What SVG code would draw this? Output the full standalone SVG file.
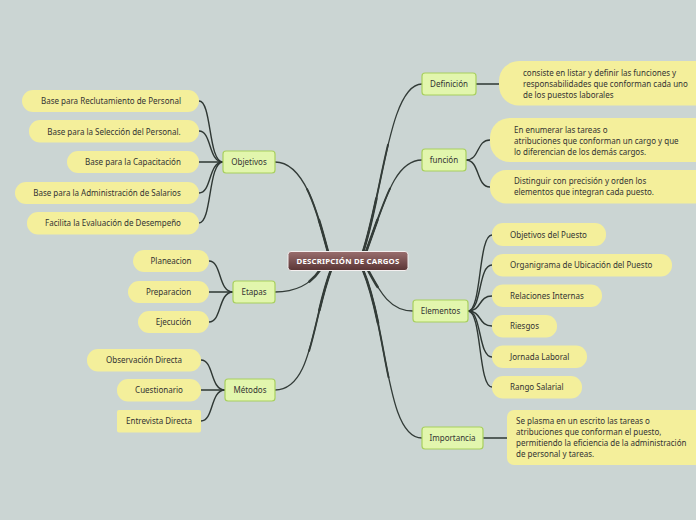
<svg xmlns="http://www.w3.org/2000/svg" width="696" height="520" viewBox="0 0 696 520">
<defs>
<linearGradient id="cg" x1="0" y1="0" x2="0" y2="1">
<stop offset="0" stop-color="#9a6e6e"/>
<stop offset="1" stop-color="#5a3535"/>
</linearGradient>
<style>
text{font-family:"Noto Sans","Open Sans",sans-serif;font-size:8px;fill:#333;}
.mid{text-anchor:middle;}
.leaf{fill:#f4ef9b;}
.br{fill:#e2f6ad;stroke:#a8d05e;stroke-width:1.2;}
.c{fill:none;stroke:#333c38;stroke-width:1.3;stroke-linecap:round;}
.t{fill:none;stroke:#333c38;stroke-width:2.6;stroke-linecap:round;stroke-dasharray:30 200;}
.t2{fill:none;stroke:#333c38;stroke-width:1.9;stroke-linecap:round;stroke-dasharray:60 200;}
.l{fill:none;stroke:#2e3733;stroke-width:1.4;stroke-linecap:round;}
.ct{font-size:7.8px;font-weight:bold;fill:#fff;text-anchor:middle;letter-spacing:0.2px;}
</style>
</defs>
<rect width="696" height="520" fill="#cbd5d3"/>

<g id="connectors">
<g id="main">
<path id="p1" class="c" d="M328 252 C318 215 305 162 275 162"/>
<path id="p2" class="c" d="M320 270 C310 285 295 292 275 292"/>
<path id="p3" class="c" d="M331 270 C312 320 312 390 275 390"/>
<path id="p4" class="c" d="M363 252 C383 190 390 84 422 84"/>
<path id="p5" class="c" d="M366 252 C385 200 395 160 422 160"/>
<path id="p6" class="c" d="M368 270 C380 292 390 311 413 311"/>
<path id="p7" class="c" d="M363 270 C388 330 386 438 422 438"/>
</g>
<g id="taper">
<path class="t" pathLength="100" d="M328 252 C318 215 305 162 275 162"/>
<path class="t" pathLength="100" d="M320 270 C310 285 295 292 275 292"/>
<path class="t" pathLength="100" d="M331 270 C312 320 312 390 275 390"/>
<path class="t" pathLength="100" d="M363 252 C383 190 390 84 422 84"/>
<path class="t" pathLength="100" d="M366 252 C385 200 395 160 422 160"/>
<path class="t" pathLength="100" d="M368 270 C380 292 390 311 413 311"/>
<path class="t" pathLength="100" d="M363 270 C388 330 386 438 422 438"/>
<path class="t2" pathLength="100" d="M328 252 C318 215 305 162 275 162"/>
<path class="t2" pathLength="100" d="M331 270 C312 320 312 390 275 390"/>
<path class="t2" pathLength="100" d="M363 252 C383 190 390 84 422 84"/>
<path class="t2" pathLength="100" d="M366 252 C385 200 395 160 422 160"/>
<path class="t2" pathLength="100" d="M363 270 C388 330 386 438 422 438"/>
</g>
<path class="l" d="M223 162 C208 162 212 101 199 101"/>
<path class="l" d="M223 162 C208 162 212 131 199 131"/>
<path class="l" d="M223 162 L199 162"/>
<path class="l" d="M223 162 C208 162 212 193 199 193"/>
<path class="l" d="M223 162 C208 162 212 223 199 223"/>
<path class="l" d="M233 292 C218 292 222 261 209 261"/>
<path class="l" d="M233 292 L209 292"/>
<path class="l" d="M233 292 C218 292 222 322 209 322"/>
<path class="l" d="M225 390 C210 390 214 360 201 360"/>
<path class="l" d="M225 390 L201 390"/>
<path class="l" d="M225 390 C210 390 214 421 201 421"/>
<path class="l" d="M476 84 L499 84"/>
<path class="l" d="M466 160 C480 160 476 140 490 140"/>
<path class="l" d="M466 160 C480 160 476 187 490 187"/>
<path class="l" d="M468 311 C482 311 478 235 492 235"/>
<path class="l" d="M468 311 C482 311 478 265 492 265"/>
<path class="l" d="M468 311 C482 311 478 296 492 296"/>
<path class="l" d="M468 311 C482 311 478 326 492 326"/>
<path class="l" d="M468 311 C482 311 478 357 492 357"/>
<path class="l" d="M468 311 C482 311 478 387 492 387"/>
<path class="l" d="M483 438 L507 438"/>
</g>

<g id="center">
<rect x="288" y="251.5" width="120" height="19" rx="3" fill="url(#cg)" stroke="#f4f0f0" stroke-width="1"/>
<text class="ct" x="348" y="264">DESCRIPCIÓN DE CARGOS</text>
</g>

<g id="objetivos">
<rect class="br" x="223" y="151" width="52" height="22" rx="3"/>
<text class="mid" x="249" y="165">Objetivos</text>
</g>
<g id="obj1"><rect class="leaf" x="22" y="90" width="177" height="22" rx="11"/><text class="mid" x="111" y="104">Base para Reclutamiento de Personal</text></g>
<g id="obj2"><rect class="leaf" x="29" y="120" width="170" height="22.5" rx="11"/><text class="mid" x="114" y="134.5">Base para la Selección del Personal.</text></g>
<g id="obj3"><rect class="leaf" x="67" y="151" width="132" height="22" rx="11"/><text class="mid" x="133" y="165">Base para la Capacitación</text></g>
<g id="obj4"><rect class="leaf" x="15" y="182" width="184" height="22" rx="11"/><text class="mid" x="107" y="196">Base para la Administración de Salarios</text></g>
<g id="obj5"><rect class="leaf" x="27" y="212" width="172" height="22.5" rx="11"/><text class="mid" x="113" y="226">Facilita la Evaluación de Desempeño</text></g>

<g id="etapas">
<rect class="br" x="233" y="281" width="42" height="22" rx="3"/>
<text class="mid" x="254" y="295">Etapas</text>
</g>
<g id="eta1"><rect class="leaf" x="133" y="250" width="76" height="22" rx="11"/><text class="mid" x="171" y="264">Planeacion</text></g>
<g id="eta2"><rect class="leaf" x="128" y="281" width="81" height="22" rx="11"/><text class="mid" x="168.5" y="295">Preparacion</text></g>
<g id="eta3"><rect class="leaf" x="138" y="311" width="71" height="22" rx="11"/><text class="mid" x="173.5" y="325">Ejecución</text></g>

<g id="metodos">
<rect class="br" x="225" y="379" width="50" height="22" rx="3"/>
<text class="mid" x="250" y="393">Métodos</text>
</g>
<g id="met1"><rect class="leaf" x="87" y="349" width="114" height="22.5" rx="11"/><text class="mid" x="144" y="363">Observación Directa</text></g>
<g id="met2"><rect class="leaf" x="117" y="379" width="84" height="22.5" rx="11"/><text class="mid" x="159" y="393">Cuestionario</text></g>
<g id="met3"><rect class="leaf" x="117" y="410" width="84" height="22.5" rx="2"/><text class="mid" x="159" y="424">Entrevista Directa</text></g>

<g id="definicion">
<rect class="br" x="422" y="73" width="54" height="22" rx="3"/>
<text class="mid" x="449" y="87">Definición</text>
</g>
<g id="def1"><rect class="leaf" x="499" y="61" width="220" height="44.5" rx="20"/>
<text x="523" y="76">consiste en listar y definir las funciones y</text>
<text x="523" y="87">responsabilidades que conforman cada uno</text>
<text x="523" y="98">de los puestos laborales</text></g>

<g id="funcion">
<rect class="br" x="422" y="149" width="44" height="22" rx="3"/>
<text class="mid" x="444" y="163">función</text>
</g>
<g id="fun1"><rect class="leaf" x="490" y="118" width="230" height="44" rx="20"/>
<text x="514" y="133">En enumerar las tareas o</text>
<text x="514" y="144">atribuciones que conforman un cargo y que</text>
<text x="514" y="154.5">lo diferencian de los demás cargos.</text></g>
<g id="fun2"><rect class="leaf" x="490" y="170" width="230" height="33.5" rx="16"/>
<text x="514" y="184">Distinguir con precisión y orden los</text>
<text x="514" y="195">elementos que integran cada puesto.</text></g>

<g id="elementos">
<rect class="br" x="413" y="300" width="55" height="22" rx="3"/>
<text class="mid" x="440.5" y="314">Elementos</text>
</g>
<g id="ele1"><rect class="leaf" x="492" y="223" width="114" height="23" rx="11"/><text x="510" y="237.5">Objetivos del Puesto</text></g>
<g id="ele2"><rect class="leaf" x="492" y="254" width="180" height="22.5" rx="11"/><text x="510" y="268">Organigrama de Ubicación del Puesto</text></g>
<g id="ele3"><rect class="leaf" x="492" y="284.5" width="110" height="22.5" rx="11"/><text x="510" y="298.5">Relaciones Internas</text></g>
<g id="ele4"><rect class="leaf" x="492" y="315" width="65" height="22.5" rx="11"/><text x="510" y="329">Riesgos</text></g>
<g id="ele5"><rect class="leaf" x="492" y="345.5" width="95" height="22.5" rx="11"/><text x="510" y="359.5">Jornada Laboral</text></g>
<g id="ele6"><rect class="leaf" x="492" y="376" width="90" height="22.5" rx="11"/><text x="510" y="390">Rango Salarial</text></g>

<g id="importancia">
<rect class="br" x="422" y="427" width="61" height="22" rx="3"/>
<text class="mid" x="452.5" y="441">Importancia</text>
</g>
<g id="imp1"><rect class="leaf" x="507" y="410" width="210" height="55" rx="7"/>
<text x="516" y="424">Se plasma en un escrito las tareas o</text>
<text x="516" y="435">atribuciones que conforman el puesto,</text>
<text x="516" y="446">permitiendo la eficiencia de la administración</text>
<text x="516" y="457">de personal y tareas.</text></g>
</svg>
